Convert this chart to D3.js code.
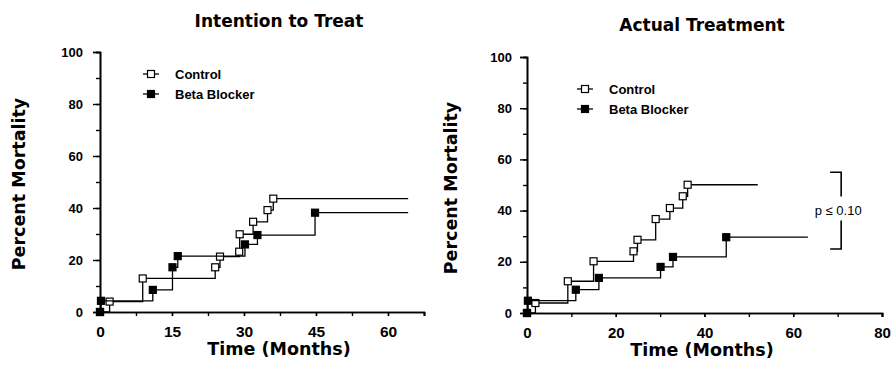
<!DOCTYPE html>
<html>
<head>
<meta charset="utf-8">
<script src="https://cdn.jsdelivr.net/npm/d3@7"></script>
<style>
  body { margin: 0; background: #fff; }
  svg text { font-family: "Liberation Sans", Arial, sans-serif; font-weight: bold; fill: #000; }
  svg text.big { font-family: "DejaVu Sans", sans-serif; }
</style>
</head>
<body>
<div id="chart"></div>
<script>
const width = 894,
  height = 371;

// Intention to treat
const ittControlMonths = [0, 2.0, 8.9, 24.0, 25.0, 29.0, 29.1, 31.9, 34.9, 36.1];
const ittControlPct = [0, 4.0, 12.9, 17.2, 21.3, 23.2, 29.9, 34.7, 39.2, 43.6];
const ittControlEnd = 64.2;
const ittBetaMonths = [0, 0.2, 11.0, 15.1, 16.2, 30.2, 32.8, 44.8];
const ittBetaPct = [0, 4.3, 8.5, 17.2, 21.5, 26.0, 29.6, 38.2];
const ittBetaEnd = 64.2;

// Actual treatment
const atControlMonths = [0, 1.9, 9.2, 15.0, 24.0, 24.9, 29.0, 32.2, 35.1, 36.2];
const atControlPct = [0, 3.9, 12.4, 20.2, 24.1, 28.6, 36.7, 41.0, 45.6, 50.1];
const atControlEnd = 52.0;
const atBetaMonths = [0, 0.2, 11.0, 16.2, 30.1, 32.9, 44.9];
const atBetaPct = [0, 4.8, 9.1, 13.7, 18.0, 21.9, 29.6];
const atBetaEnd = 63.3;

const yTicks = [0, 20, 40, 60, 80, 100];
const yMinorTicks = d3.range(0, 101, 10);
const ittXTicks = [0, 15, 30, 45, 60];
const ittXMinorTicks = d3.range(0, 67.6, 7.5);
const atXTicks = [0, 20, 40, 60, 80];
const atXMinorTicks = d3.range(0, 81, 10);
const legendLabels = ["Control", "Beta Blocker"];
const pText = "p \u2264 0.10";
const pBracket = [25, 55];
const pBracketMonth = 70.8;

const svg = d3.select("#chart")
  .append("svg")
  .attr("width", width)
  .attr("height", height);

function toPoints(months, pct, end) {
  const pts = months.map((m, i) => ({ m, p: pct[i] }));
  return { pts, line: [...pts, { m: end, p: pct[pct.length - 1] }] };
}

function drawPanel(cfg) {
  const x = d3.scaleLinear().domain(cfg.xDomain).range([cfg.left, cfg.right]);
  const y = d3.scaleLinear().domain([0, 100]).range([cfg.bottom, cfg.top]);
  const g = svg.append("g");

  // axes
  g.append("g")
    .attr("transform", `translate(${cfg.left},0)`)
    .call(d3.axisLeft(y).tickValues(yMinorTicks)
      .tickSize(4).tickPadding(0).tickFormat(""));
  g.append("g")
    .attr("transform", `translate(${cfg.left},0)`)
    .call(d3.axisLeft(y).tickValues(yTicks)
      .tickSize(7).tickPadding(cfg.yPad).tickFormat(d3.format("d")))
    .call(s => s.selectAll("text").style("font-size", "13px"));
  g.append("g")
    .attr("transform", `translate(0,${cfg.bottom})`)
    .call(d3.axisBottom(x).tickValues(cfg.xMinor)
      .tickSize(4).tickFormat(""));
  g.append("g")
    .attr("transform", `translate(0,${cfg.bottom})`)
    .call(d3.axisBottom(x).tickValues(cfg.xTicks)
      .tickSize(4).tickPadding(10).tickFormat(d3.format("d")))
    .call(s => s.selectAll("text").style("font-size", cfg.xTickSize));
  g.selectAll(".domain").attr("stroke", "#000").attr("stroke-width", 1.6);
  g.selectAll(".tick line").attr("stroke", "#000").attr("stroke-width", 1.4);

  const step = d3.line()
    .x(d => x(d.m))
    .y(d => y(d.p))
    .curve(d3.curveStepAfter);

  cfg.series.forEach(s => {
    const { pts, line } = toPoints(s.months, s.pct, s.end);
    g.append("path")
      .datum(line)
      .attr("d", step)
      .attr("fill", "none")
      .attr("stroke", "#000")
      .attr("stroke-width", 1.3);
    g.selectAll(null)
      .data(pts)
      .join("rect")
      .attr("x", d => x(d.m) - 3.5)
      .attr("y", d => y(d.p) - 3.5)
      .attr("width", 7)
      .attr("height", 7)
      .attr("fill", s.filled ? "#000" : "#fff")
      .attr("stroke", "#000")
      .attr("stroke-width", 1.2);
  });

  // legend
  legendLabels.forEach((label, i) => {
    const ly = cfg.legendY + i * 20;
    g.append("line")
      .attr("x1", cfg.legendX - 8).attr("x2", cfg.legendX + 8)
      .attr("y1", ly).attr("y2", ly)
      .attr("stroke", "#000").attr("stroke-width", 1.3);
    g.append("rect")
      .attr("x", cfg.legendX - 3.5).attr("y", ly - 3.5)
      .attr("width", 7).attr("height", 7)
      .attr("fill", i === 0 ? "#fff" : "#000")
      .attr("stroke", "#000").attr("stroke-width", 1.2);
    g.append("text")
      .attr("x", cfg.legendX + 24).attr("y", ly + 4.5)
      .style("font-size", "13px")
      .text(label);
  });

  g.append("text")
    .attr("class", "big")
    .attr("x", cfg.cx).attr("y", cfg.titleY)
    .attr("text-anchor", "middle")
    .style("font-size", "17px")
    .text(cfg.title);
  g.append("text")
    .attr("class", "big")
    .attr("x", cfg.cx).attr("y", cfg.xLabelY)
    .attr("text-anchor", "middle")
    .style("font-size", "17.5px")
    .text("Time (Months)");
  g.append("text")
    .attr("class", "big")
    .attr("transform", `translate(${cfg.yLabelX},${cfg.yLabelY}) rotate(-90)`)
    .attr("text-anchor", "middle")
    .style("font-size", "17.5px")
    .text("Percent Mortality");

  return { x, y, g };
}

drawPanel({
  left: 100, right: 424, top: 52, bottom: 312,
  xDomain: [0, 67.5], xTicks: ittXTicks, xMinor: ittXMinorTicks, yPad: 10,
  xTickSize: "15.5px",
  series: [
    { months: ittControlMonths, pct: ittControlPct, end: ittControlEnd, filled: false },
    { months: ittBetaMonths, pct: ittBetaPct, end: ittBetaEnd, filled: true },
  ],
  legendX: 151, legendY: 74,
  title: "Intention to Treat", cx: 279, titleY: 27,
  xLabelY: 355, yLabelX: 25, yLabelY: 184,
});

const right = drawPanel({
  left: 527, right: 882, top: 57, bottom: 313,
  xDomain: [0, 80], xTicks: atXTicks, xMinor: atXMinorTicks, yPad: 8,
  xTickSize: "15px",
  series: [
    { months: atControlMonths, pct: atControlPct, end: atControlEnd, filled: false },
    { months: atBetaMonths, pct: atBetaPct, end: atBetaEnd, filled: true },
  ],
  legendX: 585, legendY: 89,
  title: "Actual Treatment", cx: 702, titleY: 31,
  xLabelY: 356, yLabelX: 457, yLabelY: 188,
});

// significance bracket
const bx = right.x(pBracketMonth),
  bTop = right.y(pBracket[1]),
  bBot = right.y(pBracket[0]),
  bMid = (bTop + bBot) / 2;
right.g.append("path")
  .attr("d", `M${bx - 11},${bTop}H${bx}V${bMid - 14}M${bx},${bMid + 10}V${bBot}H${bx - 11}`)
  .attr("fill", "none")
  .attr("stroke", "#000")
  .attr("stroke-width", 1.6);
right.g.append("text")
  .attr("x", bx - 3).attr("y", bMid + 4)
  .attr("text-anchor", "middle")
  .style("font-size", "13px")
  .style("font-weight", "normal")
  .text(pText);
</script>
</body>
</html>
